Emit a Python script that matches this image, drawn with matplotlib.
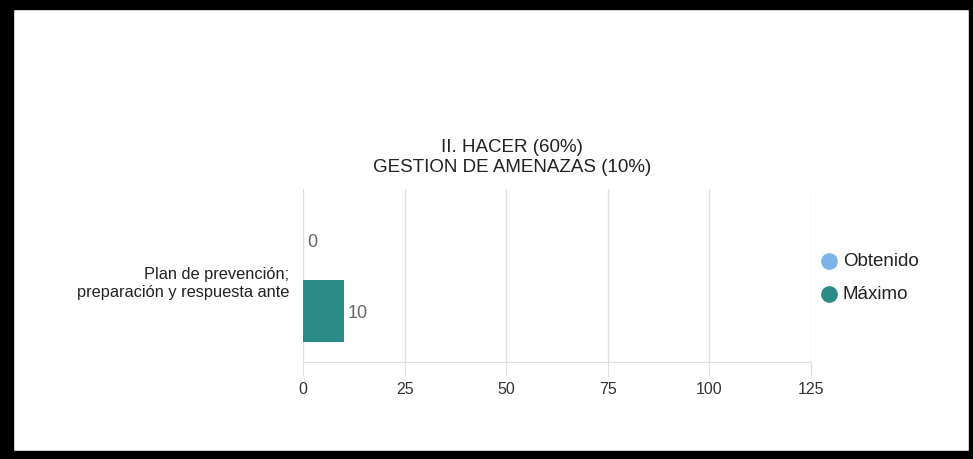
import numpy as np
import matplotlib.pyplot as plt
from matplotlib.patches import Rectangle
from matplotlib.lines import Line2D

categorias = ["Plan de prevención;\npreparación y respuesta ante"]
series = ["Obtenido", "Máximo"]
obtenido = [0]
maximo = [10]
xticks = [0, 25, 50, 75, 100, 125]
titulo = ["II. HACER (60%)", "GESTION DE AMENAZAS (10%)"]

colores = ["#7cb3e9", "#2b8c87"]

plt.rcParams['font.family'] = ['Liberation Sans', 'DejaVu Sans']

fig = plt.figure(figsize=(9.73, 4.6), dpi=100)
W, H = 973, 460
ax = fig.add_axes([303 / W, 1 - 363 / H, 508 / W, 173 / H])

y = np.arange(len(categorias))
h = 0.36
b1 = ax.barh(y + h / 2, obtenido, height=h, color=colores[0])
b2 = ax.barh(y - h / 2, maximo, height=h, color=colores[1])

# etiquetas de valor
for bars, vals, dy in [(b1, obtenido, 0.04), (b2, maximo, -0.005)]:
    for bar, v in zip(bars, vals):
        ax.text(bar.get_width() + 1, bar.get_y() + bar.get_height() / 2 + dy, str(v),
                va="center", ha="left", fontsize=13, color="#666666")

ax.set_xlim(0, 125)
ax.set_ylim(-0.474, 0.526)
ax.set_xticks(xticks)
ax.set_yticks(y)
ax.set_yticklabels(categorias, fontsize=11.8, color="#222222", linespacing=1.25)
ax.tick_params(axis="y", length=0, pad=10)
ax.tick_params(axis="x", length=10, color="#e0e0e0", pad=4, labelsize=11.5, labelcolor="#333333")
ax.grid(axis="x", color="#e0e0e0", linewidth=1)
ax.set_axisbelow(True)
for s in ["top", "right", "left"]:
    ax.spines[s].set_visible(False)
ax.spines["bottom"].set_color("#e0e0e0")

fig.text(512 / W, 1 - 147 / H, titulo[0], ha="center", va="center", fontsize=13.5, color="#222222")
fig.text(512 / W, 1 - 168 / H, titulo[1], ha="center", va="center", fontsize=13.5, color="#222222")

# leyenda
for i, (lab, c) in enumerate(zip(series, colores)):
    yy = 1 - (262 + 33 * i) / H
    fig.add_artist(Line2D([829 / W], [yy], marker="o", markersize=11, color=c,
                          linestyle="none", transform=fig.transFigure))
    fig.text(843 / W, yy, lab, ha="left", va="center", fontsize=13.5, color="#222222")

# marco negro de la captura
for x0, y0, w, hh in [(0, 0, W, 10), (0, 0, 13, H), (0, 452, W, 8), (969, 0, 4, H)]:
    fig.add_artist(Rectangle((x0 / W, 1 - (y0 + hh) / H), w / W, hh / H,
                             transform=fig.transFigure, color="black", zorder=10))

fig.savefig("out.png", dpi=100)
